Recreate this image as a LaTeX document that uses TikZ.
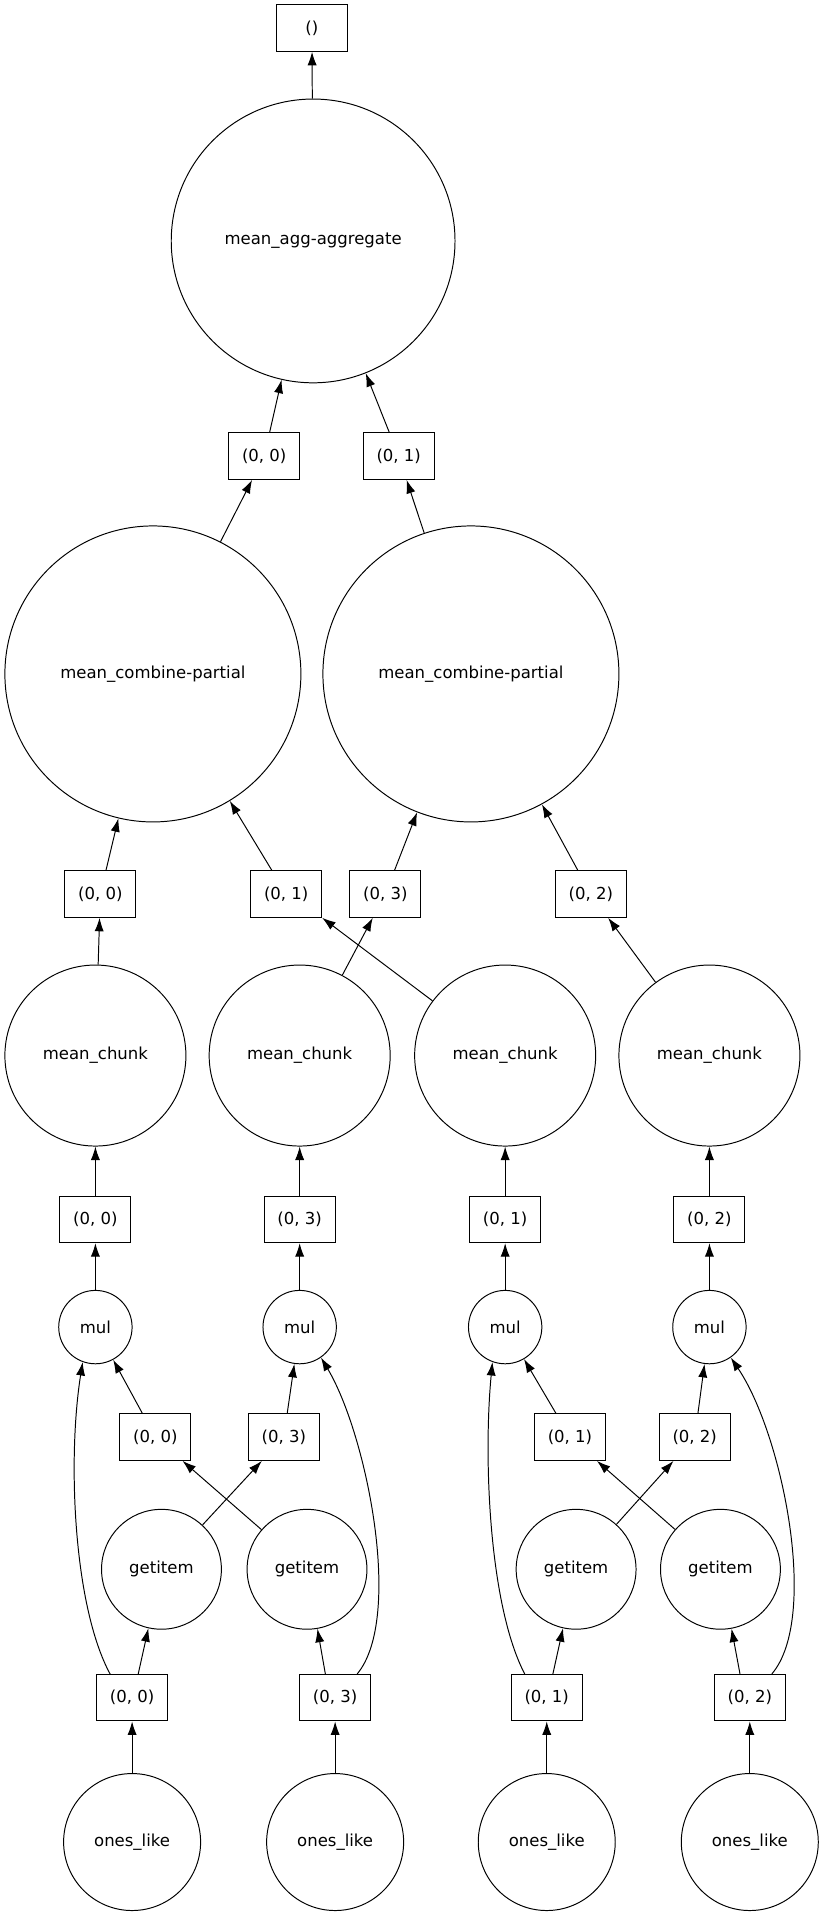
\documentclass[tikz,border=0pt]{standalone}
\usepackage{fontspec}
\setmainfont{DejaVu Sans}
\usetikzlibrary{arrows.meta}
\begin{document}
\begin{tikzpicture}[x=1pt,y=1pt,
  every node/.style={font=\fontsize{13.5}{16}\selectfont, draw, line width=0.8pt},
  bx/.style={rectangle, minimum width=58, minimum height=38, inner sep=2},
  cc/.style={circle, inner sep=0, minimum size=#1},
  e/.style={-{Latex[length=11,width=7.5]}, line width=0.8pt}]
\useasboundingbox (0,0) rectangle (676,1573);
\node[bx] (top) at (255,1550) {()};
\node[cc=232] (agg) at (256,1376) {mean\_agg-aggregate};
\node[bx] (a0) at (216,1200) {(0, 0)};
\node[bx] (a1) at (326,1200) {(0, 1)};
\node[cc=242] (cl) at (125,1022) {mean\_combine-partial};
\node[cc=242] (cr) at (385,1022) {mean\_combine-partial};
\node[bx] (r0) at (82,842) {(0, 0)};
\node[bx] (r1) at (234,842) {(0, 1)};
\node[bx] (r3) at (315,842) {(0, 3)};
\node[bx] (r2) at (483,842) {(0, 2)};
\node[cc=148] (m0) at (78,710) {mean\_chunk};
\node[cc=148] (m3) at (245,710) {mean\_chunk};
\node[cc=148] (m1) at (413,710) {mean\_chunk};
\node[cc=148] (m2) at (580,710) {mean\_chunk};
\node[bx] (s0) at (78,576) {(0, 0)};
\node[bx] (s3) at (245,576) {(0, 3)};
\node[bx] (s1) at (413,576) {(0, 1)};
\node[bx] (s2) at (580,576) {(0, 2)};
\node[cc=60] (u0) at (78,488) {mul};
\node[cc=60] (u3) at (245,488) {mul};
\node[cc=60] (u1) at (413,488) {mul};
\node[cc=60] (u2) at (580,488) {mul};
\node[bx] (t0) at (127,398) {(0, 0)};
\node[bx] (t3) at (232,398) {(0, 3)};
\node[bx] (t1) at (466,398) {(0, 1)};
\node[bx] (t2) at (568,398) {(0, 2)};
\node[cc=98] (g0) at (132,290) {getitem};
\node[cc=98] (g3) at (251,290) {getitem};
\node[cc=98] (g1) at (471,290) {getitem};
\node[cc=98] (g2) at (589,290) {getitem};
\node[bx] (b0) at (108,185) {(0, 0)};
\node[bx] (b3) at (274,185) {(0, 3)};
\node[bx] (b1) at (447,185) {(0, 1)};
\node[bx] (b2) at (613,185) {(0, 2)};
\node[cc=112] (o0) at (108,67) {ones\_like};
\node[cc=112] (o3) at (274,67) {ones\_like};
\node[cc=112] (o1) at (447,67) {ones\_like};
\node[cc=112] (o2) at (613,67) {ones\_like};
\foreach \a/\b in {o0/b0,o3/b3,o1/b1,o2/b2,u0/s0,u3/s3,u1/s1,u2/s2,s0/m0,s3/m3,s1/m1,s2/m2,m0/r0,agg/top}
  \draw[e] (\a) -- (\b);
\draw[e] ([xshift=5]b0.north) -- (g0);
\draw[e] ([xshift=-8]b3.north) -- (g3);
\draw[e] ([xshift=5]b1.north) -- (g1);
\draw[e] ([xshift=-8]b2.north) -- (g2);
\draw[e] ([xshift=-18]b0.north) .. controls (60,260) and (55,380) .. (u0.250);
\draw[e] ([xshift=18]b3.north) .. controls (330,250) and (300,400) .. (u3.-55);
\draw[e] ([xshift=-18]b1.north) .. controls (400,260) and (395,380) .. (u1.250);
\draw[e] ([xshift=18]b2.north) .. controls (670,250) and (640,400) .. (u2.-55);
\draw[e] (g0) -- (t3);
\draw[e] (g3) -- (t0);
\draw[e] (g1) -- (t2);
\draw[e] (g2) -- (t1);
\draw[e] (t0) -- (u0);
\draw[e] (t3) -- (u3);
\draw[e] (t1) -- (u1);
\draw[e] (t2) -- (u2);
\draw[e] (m3) -- (r3);
\draw[e] (m1) -- (r1.south east);
\draw[e] (m2) -- (r2);
\draw[e] (r0) -- (cl);
\draw[e] (r1) -- (cl);
\draw[e] (r3) -- (cr);
\draw[e] (r2) -- (cr);
\draw[e] (cl) -- (a0);
\draw[e] (cr) -- (a1);
\draw[e] (a0) -- (agg);
\draw[e] (a1) -- (agg);
\end{tikzpicture}
\end{document}
